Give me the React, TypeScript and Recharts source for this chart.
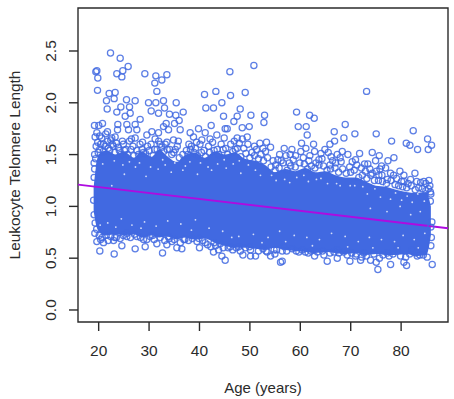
import { ComposedChart, Area, Scatter, XAxis, YAxis, ReferenceLine, ReferenceArea } from "recharts"

// axis
const ageTicks = [20, 30, 40, 50, 60, 70, 80]
const lengthTicks = [0, 0.5, 1, 1.5, 2, 2.5]
const ageDomain = [15.9, 89.3]
const lengthDomain = [-0.116, 2.915]

// regression line ends, read at the frame edges
const fitAges = [15.9, 89.3]
const fitLengths = [1.21, 0.79]

// solid part of the cloud, where the circles overlap completely
const bandAges = [19, 19.4, 20, 21.5, 23.5, 25, 27, 28.5, 30.5, 32, 33.5, 35.5, 37, 39, 41, 43, 45, 47, 49, 51, 53, 55, 57, 59, 61, 63, 65, 67, 69, 71, 73, 75, 77, 79, 81, 83, 85, 85.9]
const bandLows = [0.96, 0.84, 0.76, 0.72, 0.73, 0.72, 0.73, 0.7, 0.72, 0.7, 0.71, 0.68, 0.7, 0.68, 0.69, 0.65, 0.62, 0.6, 0.6, 0.59, 0.58, 0.6, 0.58, 0.57, 0.56, 0.55, 0.56, 0.55, 0.54, 0.55, 0.53, 0.54, 0.53, 0.53, 0.54, 0.52, 0.53, 0.72]
const bandHighs = [1.18, 1.36, 1.5, 1.54, 1.5, 1.53, 1.47, 1.53, 1.48, 1.55, 1.49, 1.43, 1.49, 1.52, 1.47, 1.53, 1.5, 1.52, 1.46, 1.44, 1.4, 1.33, 1.36, 1.34, 1.37, 1.33, 1.34, 1.3, 1.28, 1.28, 1.24, 1.2, 1.19, 1.16, 1.14, 1.13, 1.14, 1]

// circles above the cloud
const upperPoints = [
	[19.44, 2.3], [19.64, 2.31], [19.83, 2.24], [19.77, 2.12], [22.35, 2.48], [24.27, 2.43], [25.85, 2.35], [24.79, 2.31], [23.6, 2.28], [24.6, 2.25],
	[29.16, 2.28], [31.34, 2.26], [33.53, 2.27], [32.53, 2.22], [31.14, 2.19], [31.54, 2.11], [23.27, 2.1], [22.08, 2.09], [23.07, 2.04], [21.55, 2.02],
	[25.52, 2.03], [27.24, 2.02], [21.69, 1.94], [24.4, 1.96], [26.12, 1.96], [23.6, 1.91], [29.89, 2], [31.34, 2], [32.86, 2.02], [35.38, 2],
	[30.42, 1.92], [33.06, 1.95], [31.87, 1.9], [36.77, 1.91], [34.05, 1.89], [35.31, 1.88], [26.25, 1.9], [25.26, 1.87], [28.23, 1.84], [35.97, 1.83],
	[35.05, 1.8], [41, 2.08], [43.25, 2.11], [41.26, 1.95], [42.78, 1.95], [44.44, 2], [44.77, 1.87], [42.32, 1.78], [45.1, 1.75], [33.39, 1.8],
	[32.86, 1.77], [25.59, 1.79], [23.8, 1.79], [27.24, 1.79], [25.92, 1.74], [27.57, 1.74], [19.17, 1.78], [20.03, 1.78], [20.76, 1.8], [21.75, 1.72],
	[23.74, 1.74], [33.86, 1.74], [36.17, 1.74], [39.81, 1.75], [41.13, 1.71], [38.15, 1.71], [38.81, 1.67], [31.87, 1.71], [30.55, 1.72], [29.56, 1.69],
	[23.27, 1.67], [27.24, 1.66], [43.44, 1.69], [40.47, 1.64], [34.85, 1.64], [33.53, 1.62], [19.3, 1.67], [19.64, 1.71],
	[50.79, 2.36], [46.03, 2.3], [46.16, 2.07], [49.07, 2.1], [48.08, 1.94], [50.2, 1.88], [52.91, 1.88], [52.78, 1.81], [47.48, 1.87], [46.82, 1.82],
	[49.87, 1.77], [48.48, 1.76], [45.5, 1.75], [59.26, 1.91], [61.84, 1.88], [62.76, 1.85], [59.59, 1.77], [61.17, 1.77], [61.37, 1.69], [66.73, 1.72],
	[68.91, 1.79], [68.65, 1.66], [70.83, 1.7], [73.15, 2.11], [75.06, 1.7], [82.4, 1.73], [78.11, 1.63], [85.25, 1.65], [86.04, 1.59], [81.02, 1.61],
	[81.74, 1.59], [83.26, 1.55], [85.38, 1.55], [66.8, 1.63], [65.87, 1.6], [64.88, 1.55], [62.63, 1.6], [60.25, 1.61], [61.11, 1.56], [56.81, 1.56],
	[58.33, 1.55], [54.1, 1.57], [53.3, 1.62], [51.98, 1.61], [49.47, 1.67], [47.48, 1.66], [68.32, 1.53], [71.76, 1.51], [74.27, 1.52], [75.66, 1.49],
	[78.57, 1.47], [77.38, 1.44], [70.96, 1.45], [72.75, 1.41], [76.12, 1.39], [79.76, 1.34], [82.74, 1.32], [80.55, 1.3], [85.51, 1.25], [84.52, 1.24],
	[83.86, 1.23], [55.55, 1.45], [59.06, 1.49], [62.83, 1.53], [65.54, 1.52], [69.44, 1.5], [67.33, 1.5], [63.69, 1.45], [57.14, 1.49], [67, 1.42],
	[74.93, 1.44], [76.92, 1.37], [74.27, 1.32], [75.59, 1.3], [77.25, 1.26], [80.55, 1.24], [81.88, 1.26],
]

// circles below the cloud
const lowerPoints = [
	[19.24, 0.74], [19.64, 0.66], [20.23, 0.57], [23.08, 0.54], [24.6, 0.62], [27.24, 0.59], [29.23, 0.61], [32.67, 0.55], [35.51, 0.6], [36.5, 0.59],
	[40, 0.6], [42.27, 0.61], [42.78, 0.56], [43.79, 0.58], [45.1, 0.48], [44.44, 0.52], [20.96, 0.65], [22.95, 0.67], [24.27, 0.69], [31.54, 0.64],
	[33.53, 0.63], [37.82, 0.67], [41.13, 0.65], [44.11, 0.64], [25.59, 0.71], [27.57, 0.71], [29.56, 0.68], [34.52, 0.66],
	[86.17, 0.44], [75.39, 0.39], [77.91, 0.44], [80.55, 0.46], [81.08, 0.43], [71.96, 0.48], [69.84, 0.47], [73.94, 0.48], [75.06, 0.46], [65.34, 0.47],
	[67.33, 0.5], [62.83, 0.52], [61.57, 0.55], [56.08, 0.46], [56.41, 0.47], [51.12, 0.52], [50.13, 0.52], [48.61, 0.53], [54.1, 0.52], [54.96, 0.54],
	[56.41, 0.57], [53.44, 0.56], [50.13, 0.58], [49.14, 0.6], [67.66, 0.55], [70.96, 0.52], [79.89, 0.52], [83.2, 0.52], [85.18, 0.51], [64.68, 0.53],
	[59.72, 0.56], [77.25, 0.55], [79.23, 0.59], [82.2, 0.58],
]

// circles on the rough top and bottom edge of the cloud, estimated
const edgePoints = [
	[19.2, 1.5], [19.5, 1.58], [19.8, 1.62], [20.2, 1.55], [20.6, 1.66], [21, 1.6], [21.4, 1.7], [21.9, 1.56], [22.4, 1.64], [22.9, 1.58], [23.5, 1.61], [24.1, 1.54], [24.9, 1.6], [25.4, 1.55], [26.1, 1.63], [26.8, 1.58], [27.6, 1.54], [28.2, 1.6], [28.9, 1.52], [29.7, 1.58], [30.4, 1.6], [31.1, 1.55], [31.9, 1.63], [32.5, 1.57], [33.2, 1.6], [34.1, 1.55], [34.9, 1.52], [35.6, 1.58], [36.7, 1.5], [37.4, 1.54], [38.4, 1.58], [39.2, 1.56], [40.1, 1.6], [40.9, 1.54], [41.8, 1.58], [42.6, 1.62], [43.5, 1.55], [44.3, 1.6], [45.2, 1.56], [46.2, 1.6], [47.1, 1.55], [47.9, 1.61], [48.8, 1.56], [49.6, 1.6], [50.4, 1.52], [51.3, 1.55], [52.2, 1.5], [53.1, 1.53], [54.6, 1.44], [55.1, 1.4], [56.2, 1.44], [57.8, 1.42], [58.6, 1.45], [60.6, 1.47], [61.7, 1.44], [63.1, 1.42], [64.3, 1.46], [65.9, 1.4], [66.4, 1.44], [68.1, 1.43], [69.8, 1.38], [71.2, 1.4], [72.9, 1.34], [73.8, 1.36], [75.1, 1.34], [76.2, 1.3], [77.9, 1.32], [79.1, 1.27], [80.1, 1.24], [81.4, 1.22], [83.1, 1.24], [84.9, 1.22], [85.7, 1.2],
	[19.1, 0.92], [19.3, 0.84], [19.6, 0.78], [20.1, 0.72], [20.7, 0.7], [21.5, 0.72], [22.4, 0.71], [23.5, 0.7], [24.9, 0.72], [26.3, 0.7], [27.1, 0.73], [28.3, 0.7], [30.2, 0.71], [31, 0.68], [32.2, 0.7], [33.1, 0.67], [34, 0.69], [35, 0.68], [36.2, 0.65], [37.1, 0.68], [38.6, 0.69], [39.5, 0.66], [40.6, 0.67], [41.6, 0.63], [43.2, 0.62], [45.7, 0.6], [46.6, 0.58], [47.3, 0.6], [48.1, 0.57], [51.7, 0.57], [52.6, 0.59], [55.3, 0.58], [57.3, 0.57], [58.4, 0.59], [60.4, 0.58], [62.1, 0.57], [63.4, 0.56], [65.9, 0.55], [66.7, 0.56], [68.6, 0.56], [69.3, 0.53], [71.1, 0.54], [72.6, 0.55], [73.1, 0.52], [74.6, 0.54], [76.4, 0.53], [78.4, 0.54], [81.7, 0.54], [82.9, 0.55], [84.4, 0.53], [85.9, 0.62], [86, 0.7], [85.9, 0.8], [86.1, 0.85], [85.8, 1.05], [85.9, 1.12], [19, 1.06], [19.1, 1.28], [19.2, 1.36], [19.1, 1.42],
]

// second, tighter layer of circles just above the solid part, estimated
const crowdPoints = [
	[19.4, 1.46], [19.9, 1.52], [20.4, 1.6], [20.9, 1.53], [21.3, 1.58], [21.8, 1.63], [22.2, 1.54], [22.7, 1.6], [23.2, 1.52], [23.9, 1.57], [24.4, 1.5], [25.1, 1.54], [25.7, 1.5], [26.4, 1.55], [27, 1.49], [27.9, 1.5], [28.6, 1.55], [29.3, 1.51], [30, 1.54], [30.8, 1.49], [31.6, 1.55], [32.2, 1.6], [32.9, 1.53], [33.6, 1.55], [34.5, 1.5], [35.2, 1.55], [36, 1.47], [36.9, 1.44], [37.7, 1.5], [38.2, 1.55], [38.9, 1.52], [39.6, 1.49], [40.4, 1.52], [41.2, 1.48], [42, 1.52], [42.9, 1.54], [43.8, 1.5], [44.7, 1.55], [45.6, 1.5], [46.6, 1.53], [47.5, 1.56], [48.2, 1.48], [49.2, 1.51], [50, 1.47], [50.9, 1.49], [51.7, 1.46], [52.7, 1.44], [53.5, 1.47], [54.2, 1.38], [55, 1.35], [55.8, 1.37], [56.6, 1.42], [57.4, 1.35], [58.1, 1.39], [59, 1.38], [59.9, 1.42], [60.8, 1.41], [61.4, 1.36], [62.2, 1.39], [62.9, 1.37], [63.7, 1.4], [64.6, 1.39], [65.3, 1.35], [66, 1.36], [66.9, 1.37], [67.6, 1.33], [68.4, 1.36], [69.1, 1.32], [70, 1.33], [70.7, 1.35], [71.6, 1.28], [72.3, 1.3], [73.2, 1.27], [74, 1.3], [74.7, 1.25], [75.5, 1.25], [76.3, 1.24], [77.1, 1.22], [78, 1.25], [78.8, 1.21], [79.5, 1.2], [80.3, 1.19], [81.1, 1.18], [82, 1.2], [82.8, 1.16], [83.5, 1.18], [84.2, 1.17], [84.9, 1.15], [85.4, 1.17], [85.8, 1.14],
	[20.2, 1.68], [22.6, 1.66], [24.7, 1.63], [26.5, 1.65], [28.7, 1.62], [31.2, 1.65], [35.8, 1.63], [37.9, 1.6], [39.4, 1.62], [42.1, 1.65], [44.9, 1.66], [46.9, 1.63], [48.5, 1.65], [50.9, 1.58], [52.6, 1.56], [55.9, 1.5], [58, 1.5], [60.1, 1.53], [61.9, 1.49], [64.1, 1.51], [66.1, 1.48], [67.9, 1.47], [70.3, 1.43], [72.1, 1.37], [73.4, 1.41], [75.8, 1.36], [78.5, 1.3],
	[20.4, 0.68], [21.9, 0.67], [23.2, 0.7], [25.6, 0.74], [28.9, 0.68], [30.7, 0.72], [33.8, 0.71], [36.9, 0.68], [39.9, 0.69], [42.9, 0.65], [44.7, 0.6], [46.1, 0.61], [47.8, 0.61], [49.9, 0.61], [53.2, 0.57], [54.8, 0.58], [56.8, 0.61], [59.2, 0.57], [61, 0.56], [64.4, 0.57], [67.3, 0.58], [70.2, 0.55], [72.2, 0.51], [75.7, 0.5], [77.6, 0.52], [80.9, 0.51], [83.7, 0.53],
]

// little gaps left between circles inside the cloud
const gapPoints = [
	[22.6, 1.2], [25.1, 1.31], [27.3, 1.38], [29.4, 1.29], [31.8, 1.36], [34.4, 1.33], [37.2, 1.39], [39.6, 1.31], [42.4, 1.35], [45.3, 1.37], [48.2, 1.32], [51.1, 1.35], [54.3, 1.3], [56.9, 1.26], [59.3, 1.28], [61.6, 1.24], [64.1, 1.27], [67.2, 1.22], [69.9, 1.2], [72.4, 1.19], [74.8, 1.17], [76.7, 1.2], [78.9, 1.13], [81.2, 1.1], [83.3, 1.12], [84.6, 1.05],
	[21.8, 0.84], [24.5, 0.88], [26.6, 0.82], [29.1, 0.85], [31.4, 0.81], [33.7, 0.86], [36.3, 0.83], [39.2, 0.87], [41.9, 0.79], [44.6, 0.76], [47.8, 0.71], [50.7, 0.73], [53.6, 0.7], [55.9, 0.76], [58.8, 0.72], [61.3, 0.7], [63.8, 0.68], [66.2, 0.74], [68.9, 0.71], [71.5, 0.66], [73.7, 0.7], [76.1, 0.68], [78.7, 0.66], [80.4, 0.72], [82.6, 0.68], [84.7, 0.74],
	[20.8, 1.41], [23.1, 1.44], [24.8, 1.4], [26.1, 1.43], [28.1, 1.42], [30.3, 1.38], [32.7, 1.45], [33.2, 1.4], [35.1, 1.42], [36.7, 1.35], [38.1, 1.43], [40.2, 1.42], [41.7, 1.38], [43.6, 1.41], [44.9, 1.45], [46.7, 1.41], [47.9, 1.44], [49.7, 1.4], [52.1, 1.3], [55.2, 1.25], [57.9, 1.23], [60.7, 1.3], [63.2, 1.26], [65.4, 1.22], [67.9, 1.2], [70.8, 1.2], [73.3, 1.12], [75.9, 1.09], [77.9, 1.07], [80.1, 1.06], [82.2, 1.04],
	[73.9, 0.98], [77.2, 0.95], [81.9, 0.92], [83.8, 0.95], [79.8, 1], [20.3, 0.82], [23.4, 0.8], [28.4, 0.79], [38.4, 0.77], [46.4, 0.7], [52.4, 0.65], [57.1, 0.66], [62.4, 0.62], [69.4, 0.61], [74.4, 0.6], [79.4, 0.6], [83.4, 0.6],
]

const toPoints = (list: number[][]) => list.map(([age, length]) => ({ age, length }))
const bandData = bandAges.map((age, i) => ({ age, band: [bandLows[i], bandHighs[i]] }))

const BLUE = "#4169E1"
const INK = "#2b2b2b"
const FONT = "'Liberation Sans', Arial, sans-serif"

function OpenCircle({ cx, cy }: any) {
	return <circle cx={cx} cy={cy} r={3.1} fill="none" stroke={BLUE} strokeOpacity={0.85} strokeWidth={1.25} />
}

function Gap({ cx, cy }: any) {
	return <circle cx={cx} cy={cy} r={0.9} fill="#d3dcf8" />
}

function AgeTick({ x, y, payload }: any) {
	return (
		<text x={x} y={y + 23} textAnchor="middle" fontFamily={FONT} fontSize={15.5} fill={INK}>
			{payload.value}
		</text>
	)
}

function LengthTick({ y, payload }: any) {
	return (
		<text
			x={51}
			y={y}
			transform={`rotate(-90 51 ${y})`}
			textAnchor="middle"
			dominantBaseline="central"
			fontFamily={FONT}
			fontSize={15.5}
			fill={INK}
		>
			{payload.value.toFixed(1)}
		</text>
	)
}

export default function App() {
	return (
		<div style={{ position: "absolute", left: 0, top: 0, width: 454, height: 399 }}>
			<ComposedChart width={454} height={399} data={bandData} margin={{ top: 8, right: 6, bottom: 0, left: 0 }}>
				<XAxis
					type="number"
					dataKey="age"
					domain={ageDomain}
					ticks={ageTicks}
					allowDataOverflow
					height={77}
					axisLine={false}
					tickSize={9}
					tickLine={{ stroke: INK, strokeWidth: 1.4 }}
					tick={<AgeTick />}
					interval={0}
					label={{ value: "Age (years)", position: "insideBottom", offset: 6, fontFamily: FONT, fontSize: 15, fill: INK }}
				/>
				<YAxis
					type="number"
					domain={lengthDomain}
					ticks={lengthTicks}
					allowDataOverflow
					width={78}
					axisLine={false}
					tickSize={9}
					tickLine={{ stroke: INK, strokeWidth: 1.4 }}
					tick={<LengthTick />}
					interval={0}
					label={{ value: "Leukocyte Telomere Length", angle: -90, position: "insideLeft", offset: 15, textAnchor: "middle", fontFamily: FONT, fontSize: 15.4, fill: INK }}
				/>
				<Area dataKey="band" type="monotone" fill={BLUE} fillOpacity={1} stroke="none" dot={false} activeDot={false} isAnimationActive={false} />
				<Scatter data={toPoints(crowdPoints)} dataKey="length" shape={OpenCircle} isAnimationActive={false} />
				<Scatter data={toPoints(edgePoints)} dataKey="length" shape={OpenCircle} isAnimationActive={false} />
				<Scatter data={toPoints(upperPoints)} dataKey="length" shape={OpenCircle} isAnimationActive={false} />
				<Scatter data={toPoints(lowerPoints)} dataKey="length" shape={OpenCircle} isAnimationActive={false} />
				<Scatter data={toPoints(gapPoints)} dataKey="length" shape={Gap} isAnimationActive={false} />
				<ReferenceLine
					segment={[
						{ x: fitAges[0], y: fitLengths[0] },
						{ x: fitAges[1], y: fitLengths[1] },
					]}
					stroke="#AE0BE0"
					strokeWidth={2}
				/>
				<ReferenceArea x1={ageDomain[0]} x2={ageDomain[1]} y1={lengthDomain[0]} y2={lengthDomain[1]} fill="none" stroke={INK} strokeWidth={1.4} />
			</ComposedChart>
		</div>
	)
}
